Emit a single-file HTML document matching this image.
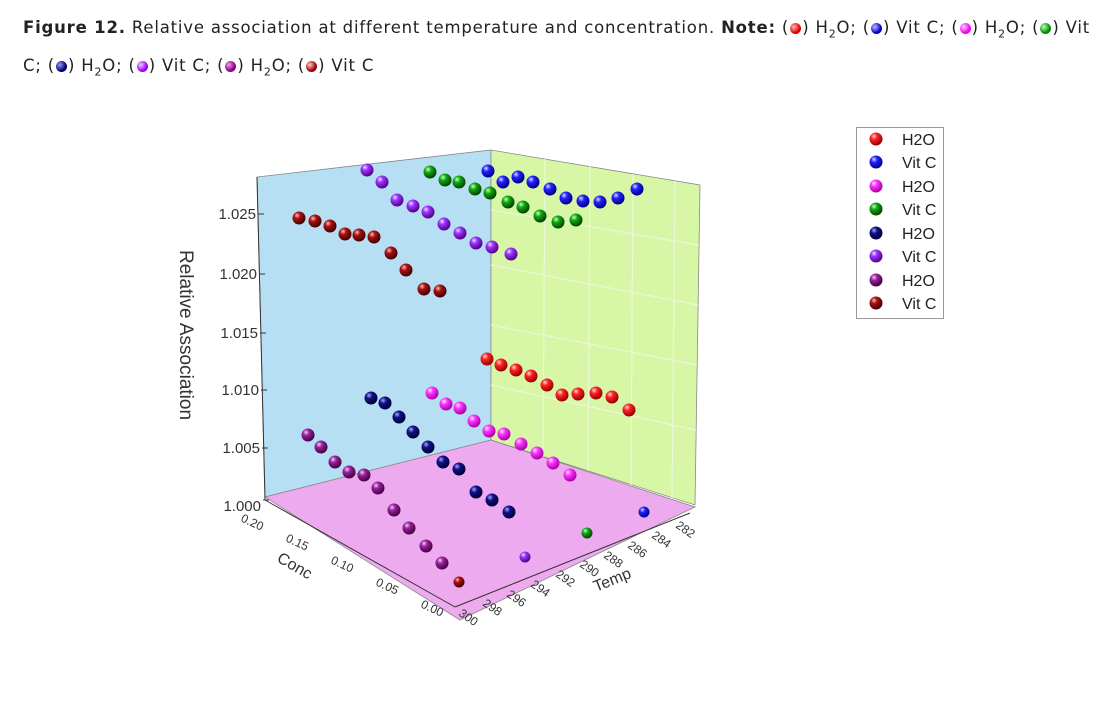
<!DOCTYPE html>
<html><head><meta charset="utf-8"><style>
body{margin:0;background:#fff;width:1103px;height:701px;overflow:hidden;font-family:"Liberation Sans",Arial,sans-serif;}
.cap{position:absolute;left:23px;font-family:"DejaVu Sans","Liberation Sans",sans-serif;font-size:16.5px;color:#222;white-space:nowrap;letter-spacing:0.8px}
.d{display:inline-block;width:11px;height:11px;border-radius:50%;vertical-align:-1px;margin:0 1px}
</style></head><body>
<div class="cap" style="top:18px"><b>Figure 12.</b> Relative association at different temperature and concentration. <b>Note:</b> (<span class="d" style="background:radial-gradient(circle at 35% 35%,#fbb,#d00 60%)"></span>) H<sub style="font-size:11px">2</sub>O; (<span class="d" style="background:radial-gradient(circle at 35% 35%,#bbf,#00c 60%)"></span>) Vit C; (<span class="d" style="background:radial-gradient(circle at 35% 35%,#fcf,#e0e 60%)"></span>) H<sub style="font-size:11px">2</sub>O; (<span class="d" style="background:radial-gradient(circle at 35% 35%,#bfb,#080 60%)"></span>) Vit</div>
<div class="cap" style="top:56px">C; (<span class="d" style="background:radial-gradient(circle at 35% 35%,#99f,#006 60%)"></span>) H<sub style="font-size:11px">2</sub>O; (<span class="d" style="background:radial-gradient(circle at 35% 35%,#ecf,#90f 60%)"></span>) Vit C; (<span class="d" style="background:radial-gradient(circle at 35% 35%,#e9e,#808 60%)"></span>) H<sub style="font-size:11px">2</sub>O; (<span class="d" style="background:radial-gradient(circle at 35% 35%,#fcc,#900 60%)"></span>) Vit C</div>
<svg width="1103" height="701" style="position:absolute;left:0;top:0">
<defs>
<radialGradient id="r" cx="35%" cy="30%" r="70%"><stop offset="0" stop-color="#fdd"/><stop offset="0.35" stop-color="#f22"/><stop offset="1" stop-color="#900"/></radialGradient>
<radialGradient id="b" cx="35%" cy="30%" r="70%"><stop offset="0" stop-color="#ddf"/><stop offset="0.35" stop-color="#22f"/><stop offset="1" stop-color="#008"/></radialGradient>
<radialGradient id="m" cx="35%" cy="30%" r="70%"><stop offset="0" stop-color="#fef"/><stop offset="0.35" stop-color="#f3f"/><stop offset="1" stop-color="#a0a"/></radialGradient>
<radialGradient id="g" cx="35%" cy="30%" r="70%"><stop offset="0" stop-color="#cfc"/><stop offset="0.35" stop-color="#1a1"/><stop offset="1" stop-color="#040"/></radialGradient>
<radialGradient id="n" cx="35%" cy="30%" r="70%"><stop offset="0" stop-color="#aaf"/><stop offset="0.35" stop-color="#118"/><stop offset="1" stop-color="#003"/></radialGradient>
<radialGradient id="v" cx="35%" cy="30%" r="70%"><stop offset="0" stop-color="#f0dfff"/><stop offset="0.35" stop-color="#93f"/><stop offset="1" stop-color="#508"/></radialGradient>
<radialGradient id="p" cx="35%" cy="30%" r="70%"><stop offset="0" stop-color="#ecf"/><stop offset="0.35" stop-color="#929"/><stop offset="1" stop-color="#404"/></radialGradient>
<radialGradient id="k" cx="35%" cy="30%" r="70%"><stop offset="0" stop-color="#fbb"/><stop offset="0.35" stop-color="#a11"/><stop offset="1" stop-color="#400"/></radialGradient>
</defs>
<polygon points="257,177 491,150 491,440 265,497" fill="#b7dff4" stroke="#888" stroke-width="0.8"/>
<polygon points="491,150 700,185 695,505 491,440" fill="#d8f7a6" stroke="#888" stroke-width="0.8"/>
<g stroke="#eaf7d8" stroke-width="1.2">
<line x1="545" y1="159" x2="543" y2="457"/><line x1="590" y1="166" x2="588" y2="471"/><line x1="633" y1="174" x2="631" y2="485"/><line x1="675" y1="181" x2="672" y2="498"/>
<line x1="491" y1="210" x2="699" y2="245"/><line x1="491" y1="265" x2="698" y2="305"/><line x1="491" y1="325" x2="697" y2="365"/><line x1="491" y1="385" x2="696" y2="430"/>
</g>
<polygon points="265,497 491,440 695,507 460,620" fill="#eeaaee" stroke="#888" stroke-width="0.8"/>
<g stroke="#333" stroke-width="1">
<line x1="257" y1="177" x2="265" y2="500"/>
<line x1="265" y1="500" x2="455" y2="607"/>
<line x1="455" y1="607" x2="690" y2="513"/>
</g>
<g stroke="#333" stroke-width="1">
<line x1="258" y1="214" x2="264" y2="214"/><line x1="259" y1="274" x2="265" y2="274"/><line x1="260" y1="333" x2="266" y2="333"/><line x1="261" y1="390" x2="267" y2="390"/><line x1="262" y1="448" x2="268" y2="448"/><line x1="263" y1="500" x2="269" y2="500"/>
</g>
<g font-size="15" fill="#333" text-anchor="end">
<text x="256" y="219">1.025</text><text x="257" y="279">1.020</text><text x="258" y="338">1.015</text><text x="259" y="395">1.010</text><text x="260" y="453">1.005</text><text x="261" y="511">1.000</text>
</g>
<text transform="translate(180,335) rotate(90)" font-size="19" fill="#333" text-anchor="middle">Relative Association</text>
<g font-size="12" fill="#333">
<text transform="translate(240,521) rotate(25)">0.20</text>
<text transform="translate(285,541) rotate(25)">0.15</text>
<text transform="translate(330,563) rotate(25)">0.10</text>
<text transform="translate(375,585) rotate(25)">0.05</text>
<text transform="translate(420,607) rotate(25)">0.00</text>
<text transform="translate(276,561) rotate(30)" font-size="16">Conc</text>
</g>
<g font-size="12" fill="#333">
<text transform="translate(458,615) rotate(35)">300</text>
<text transform="translate(482,605) rotate(35)">298</text>
<text transform="translate(506,596) rotate(35)">296</text>
<text transform="translate(530,586) rotate(35)">294</text>
<text transform="translate(555,576) rotate(35)">292</text>
<text transform="translate(579,566) rotate(35)">290</text>
<text transform="translate(603,557) rotate(35)">288</text>
<text transform="translate(627,547) rotate(35)">286</text>
<text transform="translate(651,537) rotate(35)">284</text>
<text transform="translate(675,527) rotate(35)">282</text>
<text transform="translate(596,592) rotate(-22)" font-size="16">Temp</text>
</g>
<g>
<g fill="url(#k)"><circle cx="299" cy="218" r="6.5"/><circle cx="315" cy="221" r="6.5"/><circle cx="330" cy="226" r="6.5"/><circle cx="345" cy="234" r="6.5"/><circle cx="359" cy="235" r="6.5"/><circle cx="374" cy="237" r="6.5"/><circle cx="391" cy="253" r="6.5"/><circle cx="406" cy="270" r="6.5"/><circle cx="424" cy="289" r="6.5"/><circle cx="440" cy="291" r="6.5"/><circle cx="459" cy="582" r="5.5"/></g>
<g fill="url(#v)"><circle cx="367" cy="170" r="6.5"/><circle cx="382" cy="182" r="6.5"/><circle cx="397" cy="200" r="6.5"/><circle cx="413" cy="206" r="6.5"/><circle cx="428" cy="212" r="6.5"/><circle cx="444" cy="224" r="6.5"/><circle cx="460" cy="233" r="6.5"/><circle cx="476" cy="243" r="6.5"/><circle cx="492" cy="247" r="6.5"/><circle cx="511" cy="254" r="6.5"/><circle cx="525" cy="557" r="5.5"/></g>
<g fill="url(#g)"><circle cx="430" cy="172" r="6.5"/><circle cx="445" cy="180" r="6.5"/><circle cx="459" cy="182" r="6.5"/><circle cx="475" cy="189" r="6.5"/><circle cx="490" cy="193" r="6.5"/><circle cx="508" cy="202" r="6.5"/><circle cx="523" cy="207" r="6.5"/><circle cx="540" cy="216" r="6.5"/><circle cx="558" cy="222" r="6.5"/><circle cx="576" cy="220" r="6.5"/><circle cx="587" cy="533" r="5.5"/></g>
<g fill="url(#b)"><circle cx="488" cy="171" r="6.5"/><circle cx="503" cy="182" r="6.5"/><circle cx="518" cy="177" r="6.5"/><circle cx="533" cy="182" r="6.5"/><circle cx="550" cy="189" r="6.5"/><circle cx="566" cy="198" r="6.5"/><circle cx="583" cy="201" r="6.5"/><circle cx="600" cy="202" r="6.5"/><circle cx="618" cy="198" r="6.5"/><circle cx="637" cy="189" r="6.5"/><circle cx="644" cy="512" r="5.5"/></g>
<g fill="url(#r)"><circle cx="487" cy="359" r="6.5"/><circle cx="501" cy="365" r="6.5"/><circle cx="516" cy="370" r="6.5"/><circle cx="531" cy="376" r="6.5"/><circle cx="547" cy="385" r="6.5"/><circle cx="562" cy="395" r="6.5"/><circle cx="578" cy="394" r="6.5"/><circle cx="596" cy="393" r="6.5"/><circle cx="612" cy="397" r="6.5"/><circle cx="629" cy="410" r="6.5"/></g>
<g fill="url(#m)"><circle cx="432" cy="393" r="6.5"/><circle cx="446" cy="404" r="6.5"/><circle cx="460" cy="408" r="6.5"/><circle cx="474" cy="421" r="6.5"/><circle cx="489" cy="431" r="6.5"/><circle cx="504" cy="434" r="6.5"/><circle cx="521" cy="444" r="6.5"/><circle cx="537" cy="453" r="6.5"/><circle cx="553" cy="463" r="6.5"/><circle cx="570" cy="475" r="6.5"/></g>
<g fill="url(#n)"><circle cx="371" cy="398" r="6.5"/><circle cx="385" cy="403" r="6.5"/><circle cx="399" cy="417" r="6.5"/><circle cx="413" cy="432" r="6.5"/><circle cx="428" cy="447" r="6.5"/><circle cx="443" cy="462" r="6.5"/><circle cx="459" cy="469" r="6.5"/><circle cx="476" cy="492" r="6.5"/><circle cx="492" cy="500" r="6.5"/><circle cx="509" cy="512" r="6.5"/></g>
<g fill="url(#p)"><circle cx="308" cy="435" r="6.5"/><circle cx="321" cy="447" r="6.5"/><circle cx="335" cy="462" r="6.5"/><circle cx="349" cy="472" r="6.5"/><circle cx="364" cy="475" r="6.5"/><circle cx="378" cy="488" r="6.5"/><circle cx="394" cy="510" r="6.5"/><circle cx="409" cy="528" r="6.5"/><circle cx="426" cy="546" r="6.5"/><circle cx="442" cy="563" r="6.5"/></g>
</g>
<rect x="856.5" y="127.5" width="87" height="191" fill="#fff" stroke="#999"/>
<g font-size="16" fill="#222">
<circle cx="876" cy="139" r="6.5" fill="url(#r)"/><text x="902" y="145">H2O</text>
<circle cx="876" cy="162" r="6.5" fill="url(#b)"/><text x="902" y="168">Vit C</text>
<circle cx="876" cy="186" r="6.5" fill="url(#m)"/><text x="902" y="192">H2O</text>
<circle cx="876" cy="209" r="6.5" fill="url(#g)"/><text x="902" y="215">Vit C</text>
<circle cx="876" cy="233" r="6.5" fill="url(#n)"/><text x="902" y="239">H2O</text>
<circle cx="876" cy="256" r="6.5" fill="url(#v)"/><text x="902" y="262">Vit C</text>
<circle cx="876" cy="280" r="6.5" fill="url(#p)"/><text x="902" y="286">H2O</text>
<circle cx="876" cy="303" r="6.5" fill="url(#k)"/><text x="902" y="309">Vit C</text>
</g>
</svg>
</body></html>
